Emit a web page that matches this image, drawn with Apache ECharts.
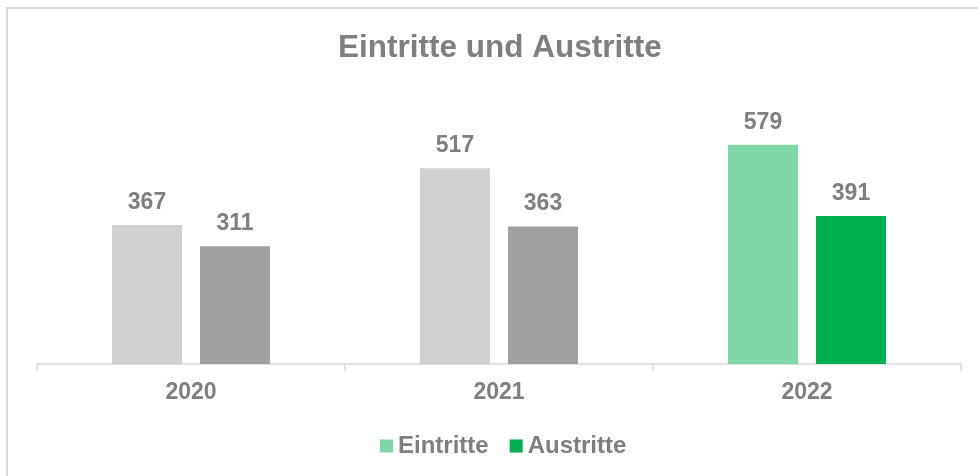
<!DOCTYPE html>
<html>
<head>
<meta charset="utf-8">
<script src="https://cdn.jsdelivr.net/npm/echarts@6/dist/echarts.min.js"></script>
<style>
	html, body { margin: 0; padding: 0; background: #fff; }
	#chart { width: 978px; height: 476px; }
</style>
</head>
<body>
<div id="chart"></div>
<script>
// Daten
var years = ['2020', '2021', '2022'];
var eintritte = [367, 517, 579];
var austritte = [311, 363, 391];

var grau = '#7f7f7f';
var schrift = '"Liberation Sans", Arial, sans-serif';

/*ältere Jahre grau, letztes Jahr grün*/
function faerben(values, grauFarbe) {
	return values.map(function(v, i) {
		if (i < values.length - 1) {
			return { value: v, itemStyle: { color: grauFarbe } };
		}
		return v;
	});
}

var myChart = echarts.init(document.getElementById('chart'));
var labelStyle = {
	show: true,
	position: 'top',
	distance: 11,
	color: grau,
	fontFamily: schrift,
	fontSize: 23,
	fontWeight: 'bold'
};
var option = {
	animation: false,
	graphic: [{
		type: 'rect',
		shape: { x: 7, y: 8, width: 1000, height: 500 },
		style: { fill: 'none', stroke: '#d9d9d9', lineWidth: 2 },
		silent: true
	}],
	title: {
		text: 'Eintritte und Austritte',
		left: 333,
		top: 27,
		textStyle: {
			color: grau,
			fontFamily: schrift,
			fontSize: 31.5,
			fontWeight: 'bold'
		}
	},
	legend: {
		left: 375,
		top: 429,
		icon: 'rect',
		itemWidth: 13,
		itemHeight: 13,
		itemGap: 21,
		textStyle: {
			color: grau,
			fontFamily: schrift,
			fontSize: 24,
			fontWeight: 'bold'
		}
	},
	grid: {
		left: 37,
		right: 17,
		top: 99,
		bottom: 112
	},
	xAxis: {
		type: 'category',
		data: years,
		axisLine: { lineStyle: { color: '#d9d9d9', width: 1.5 } },
		axisTick: { show: true, length: 7, lineStyle: { color: '#d9d9d9', width: 1.5 } },
		axisLabel: {
			margin: 17,
			color: grau,
			fontFamily: schrift,
			fontSize: 23,
			fontWeight: 'bold'
		}
	},
	yAxis: {
		type: 'value',
		min: 0,
		max: 700,
		show: false,
		splitLine: { show: false }
	},
	series: [{
		name: 'Eintritte',
		type: 'bar',
		barWidth: 70,
		barGap: '25.7%',
		itemStyle: { color: '#80d8a8' },
		label: labelStyle,
		data: faerben(eintritte, '#d0d0d0')
	}, {
		name: 'Austritte',
		type: 'bar',
		barWidth: 70,
		itemStyle: { color: '#00b050' },
		label: labelStyle,
		data: faerben(austritte, '#a0a0a0')
	}]
};
myChart.setOption(option);
</script>
</body>
</html>
